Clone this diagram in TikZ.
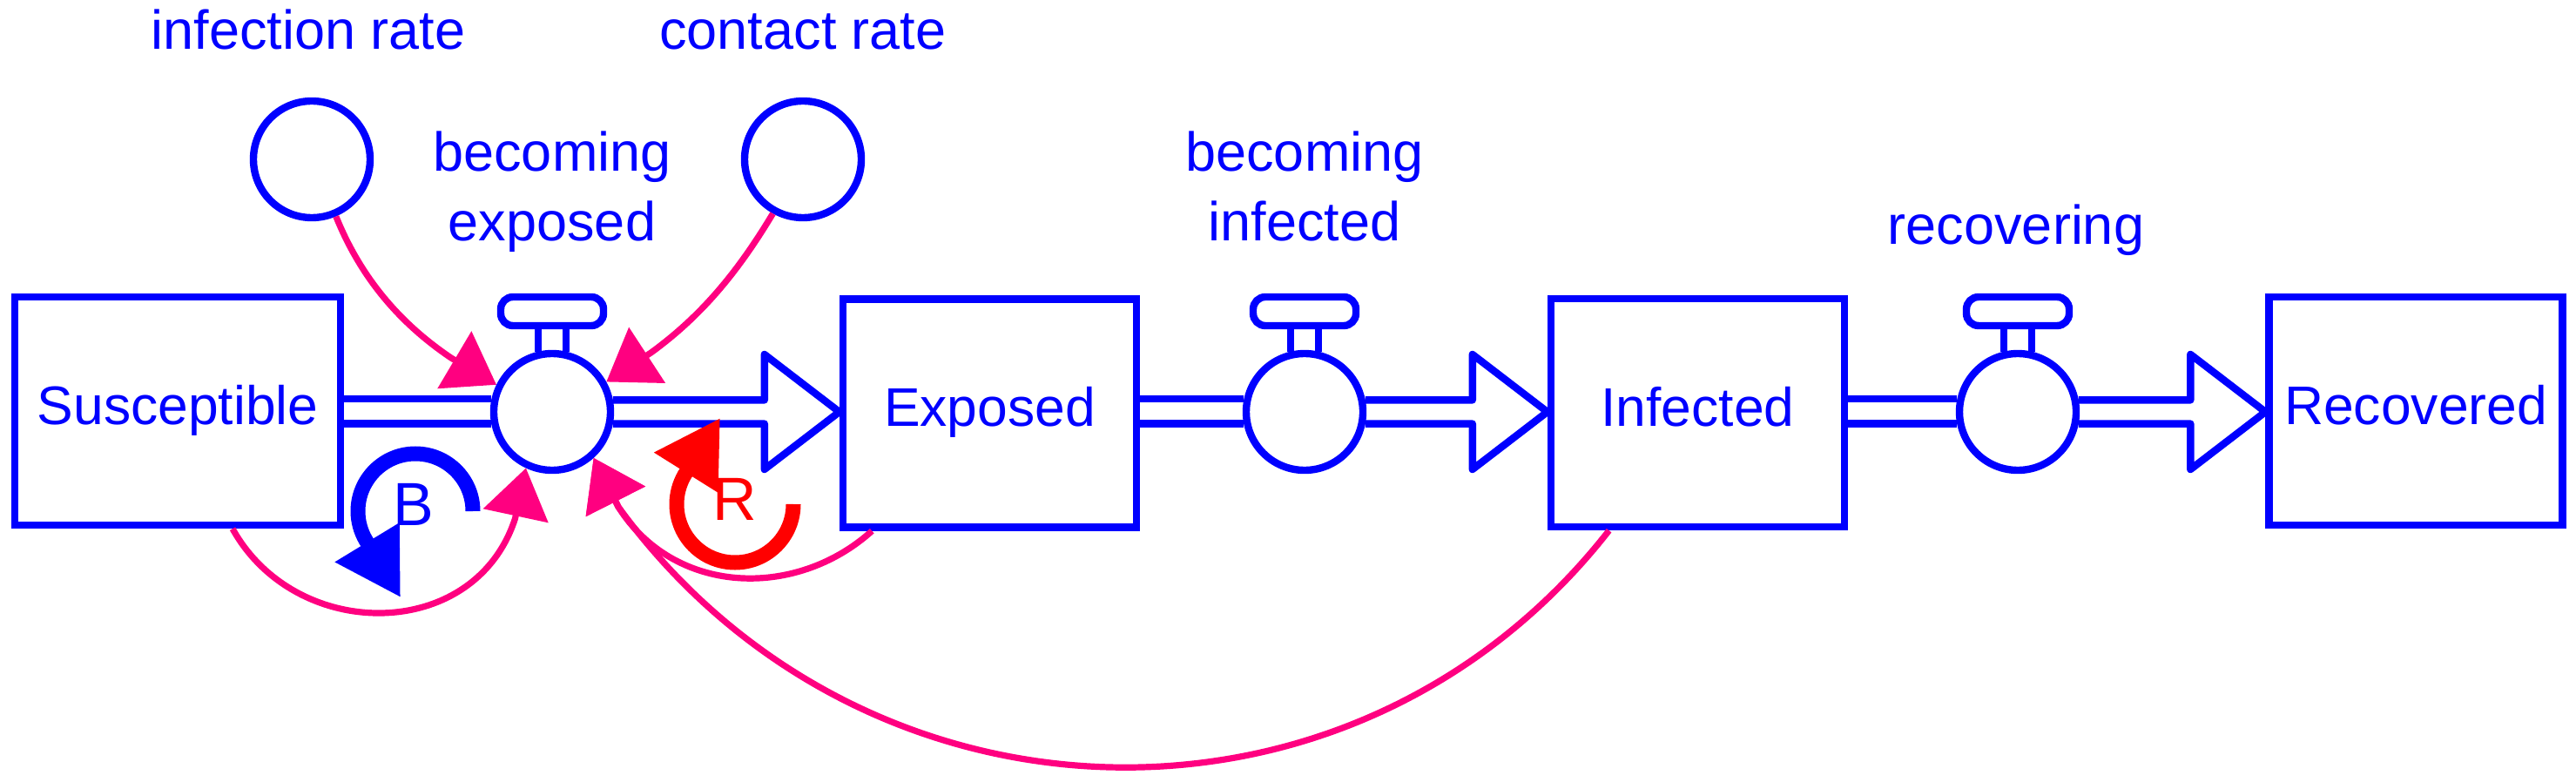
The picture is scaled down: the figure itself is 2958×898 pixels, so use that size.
\documentclass[tikz,border=0pt]{standalone}
\usepackage{fontspec}
\setmainfont{Liberation Sans}
\usetikzlibrary{arrows.meta,calc}
\definecolor{linkpink}{HTML}{FF0080}
\tikzset{
  stock/.style={draw=blue, line width=4.2pt, minimum width=#1, minimum height=131pt, inner sep=0pt,
    text=blue, text height=22pt, text depth=7pt, font=\fontsize{31.2}{40}\selectfont},
  valve/.style={draw=blue, line width=4.2pt, circle, minimum size=67pt, inner sep=0pt},
  handle/.style={draw=blue, line width=4.2pt, minimum width=59pt, minimum height=16.5pt, inner sep=0pt, rounded corners=7pt},
  pipe/.style={draw=blue, line width=4.2pt, line join=round},
  flowtext/.style={text=blue, anchor=base, align=center, inner sep=0pt, font=\fontsize{31.5}{40}\selectfont},
  link/.style={draw=linkpink, line width=3.6pt, -{Triangle[length=28pt,width=37.5pt]}},
  loopsign/.style={line width=8.5pt, -{Triangle[length=37pt,width=41pt]}},
  looptext/.style={anchor=base, inner sep=0pt, font=\fontsize{35}{40}\selectfont}
}
\begin{document}
\begin{tikzpicture}[x=0.5pt, y=-0.5pt]
\useasboundingbox (0,0) rectangle (2958,898);

\def \pipegap {11.4} % angle of the pipe lines on a valve
\def \headback {86}
\def \headhalf {66}

% stocks
\node[stock=187pt] (susceptible) at (204,472) {Susceptible};
\node[stock=168.5pt] (exposed) at (1136.5,474.5) {Exposed};
\node[stock=168.5pt] (infected) at (1949.5,474) {Infected};
\node[stock=168.5pt] (recovered) at (2774,472) {Recovered};

% valves, their handles and the pipes
\foreach \src/\v/\dst/\x in {susceptible/vexposed/exposed/634,
  exposed/vinfected/infected/1498, infected/vrecovering/recovered/2317}
{
  \node[valve] (\v) at (\x,473) {};
  \node[handle] (h\v) at (\x,357.5) {};
  \draw[pipe] (\v.103 |- h\v.south) -- (\v.103);
  \draw[pipe] (\v.77 |- h\v.south) -- (\v.77);
  \draw[pipe] (\src.east |- \v.{180-\pipegap}) -- (\v.{180-\pipegap});
  \draw[pipe] (\src.east |- \v.{180+\pipegap}) -- (\v.{180+\pipegap});
  \coordinate (tip\v) at (\dst.west |- \v);
  \coordinate (back\v) at ($(tip\v)+(-\headback,0)$);
  \draw[pipe] (\v.\pipegap) -- (\v.\pipegap -| back\v)
    -- ($(back\v)+(0,-\headhalf)$) -- (tip\v)
    -- ($(back\v)+(0,\headhalf)$) -- (\v.-\pipegap -| back\v) -- (\v.-\pipegap);
}

% converters
\node[valve] (infrate) at (358,183) {};
\node[valve] (conrate) at (922,183) {};

% texts
\node[flowtext] (tinfrate) at (354,57) {infection rate};
\node[flowtext] (tconrate) at (922,57) {contact rate};
\node[flowtext] (texposed) at (634,277) {becoming\\exposed};
\node[flowtext] (tinfected) at (1498,277) {becoming\\infected};
\node[flowtext] (trecovering) at (2315,281) {recovering};

% links, each runs to the back of its head and then straight on to the valve
\coordinate (backa) at (518,411);
\coordinate (backb) at (747.5,405);
\coordinate (backc) at (591.5,595.5);
\coordinate (backd) at (710,582);
\draw[link] (infrate.-67) to[out=-68, in=146, looseness=.9] (backa) -- (vexposed.154);
\draw[link] (conrate.-119) to[out=-121, in=36, looseness=.9] (backb) -- (vexposed.29);
\draw[link] (susceptible.-65) to[out=-61, in=-108, looseness=1.18] (backc) -- (vexposed.245);
\draw[link] (exposed.-135) to[out=-138, in=-58, looseness=1.04] (backd) -- (vexposed.312);
\draw[link] (infected.-127.5) to[out=-128, in=-54, looseness=1.07] (backd) -- (vexposed.312);

% loop signs
\coordinate (bstart) at (543,587);
\coordinate (btip) at (460,686);
\coordinate (rstart) at (911,579);
\coordinate (rtip) at (827,480);
\draw[loopsign, blue] (bstart) arc[start angle=0, end angle=-210, radius=66] -- (btip);
\draw[loopsign, red] (rstart) arc[start angle=0, end angle=210, radius=67] -- (rtip);
\node[looptext, text=blue] (tb) at (475,603) {B};
\node[looptext, text=red] (tr) at (844,597) {R};

\end{tikzpicture}
\end{document}
